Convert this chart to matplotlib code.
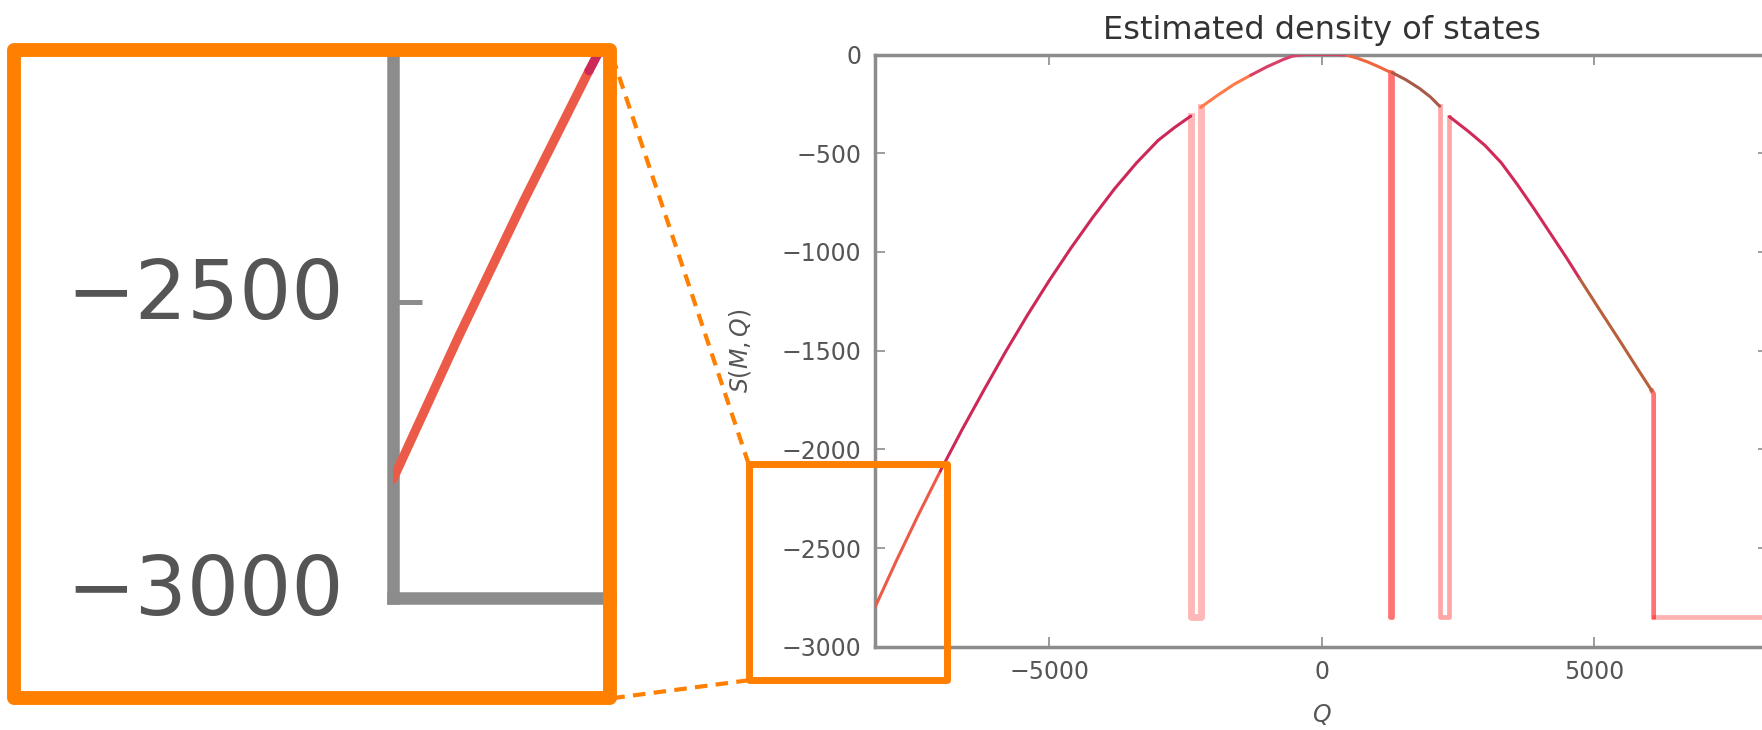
"""
Estimated density of states with an enlarged view of its lower left corner
"""

import matplotlib
matplotlib.use("Agg")
import matplotlib.pyplot as plt
from matplotlib.lines import Line2D
from matplotlib.patches import Rectangle
from matplotlib.ticker import MultipleLocator
from matplotlib.transforms import ScaledTranslation

# value the estimate falls to where a bin was never visited
FLOOR = -2850

# pieces of the curve: Q and S(M,Q)
q_tail_left = [-8200, -7800, -7400, -7000]
s_tail_left = [-2800, -2560, -2330, -2110]

q_left = [-7000, -6600, -6200, -5800, -5400, -5000, -4600, -4200,
          -3800, -3400, -3000, -2700, -2400]
s_left = [-2110, -1900, -1700, -1505, -1320, -1145, -980, -825,
          -680, -550, -435, -370, -312]

q_top_left = [-2220, -1900, -1600, -1300]
s_top_left = [-268, -205, -150, -105]

q_peak = [-1300, -1000, -700, -530, -300, 0, 300, 460]
s_peak = [-105, -62, -25, -8, 0, 0, 0, -3]

q_top_right = [460, 650, 850, 1050, 1250]
s_top_right = [-3, -18, -38, -62, -88]

q_shoulder = [1300, 1550, 1800, 2000, 2170]
s_shoulder = [-92, -128, -172, -215, -262]

q_right = [2350, 2700, 3000, 3300, 3600, 3900, 4200, 4500, 4740]
s_right = [-315, -390, -460, -548, -660, -780, -905, -1030, -1135]

q_tail_right = [4740, 5100, 5500, 5800, 6070]
s_tail_right = [-1135, -1290, -1460, -1590, -1705]

# holes where the estimate drops down to the floor
q_gap1 = [-2400, -2400, -2220, -2220]
s_gap1 = [-312, FLOOR, FLOOR, -268]
q_gap2 = [1250, 1250, 1300, 1300]
s_gap2 = [-88, FLOOR, FLOOR, -92]
q_gap3 = [2170, 2170, 2350, 2350]
s_gap3 = [-262, FLOOR, FLOOR, -315]
q_gap4 = [6070, 6100, 6100]
s_gap4 = [-1705, -1720, FLOOR]
q_flat = [6100, 8200]
s_flat = [FLOOR, FLOOR]

Q_RANGE = (-8200, 8200)
S_RANGE = (-3000, 0)

# region that is shown enlarged on the left
ZOOM_Q = (-10520, -6870)
ZOOM_S = (-3170, -2075)
MAG = 3

W, H, DPI = 1762, 730, 100
GREY = '#8c8c8c'
TEXT = '#555555'
ORANGE = '#ff7f00'

curves = [
    (q_tail_left, s_tail_left, '#ec5a48'),
    (q_left, s_left, '#cc2858'),
    (q_top_left, s_top_left, '#ff7a48'),
    (q_peak, s_peak, '#d8406a'),
    (q_top_right, s_top_right, '#f0643e'),
    (q_shoulder, s_shoulder, '#a85a48'),
    (q_right, s_right, '#d22a58'),
    (q_tail_right, s_tail_right, '#b8603c'),
]
# (q, s, alpha, line width)
gaps = [
    (q_gap1, s_gap1, 0.28, 5.0),
    (q_gap2, s_gap2, 0.55, 3.4),
    (q_gap3, s_gap3, 0.35, 3.4),
    (q_gap4, s_gap4, 0.55, 3.4),
    (q_flat, s_flat, 0.30, 3.4),
]


def draw(ax, scale=1.0):
    for q, s, a, w in gaps:
        ax.plot(q, s, color='red', alpha=a, lw=w * scale,
                solid_joinstyle='round', zorder=2)
    for q, s, c in curves:
        ax.plot(q, s, color=c, lw=2.2 * scale, solid_capstyle='round',
                solid_joinstyle='round', zorder=3)


def style(ax, scale=1.0, fs=17):
    for sp in ax.spines.values():
        sp.set_color(GREY)
        sp.set_linewidth(2.5 * scale)
    ax.tick_params(direction='in', length=7 * scale, width=1.2 * scale,
                   color=GREY, labelsize=fs, labelcolor=TEXT)
    ax.tick_params(axis='y', pad=10 * scale)
    ax.tick_params(axis='x', pad=9.5)
    ax.xaxis.set_major_locator(MultipleLocator(5000))
    ax.yaxis.set_major_locator(MultipleLocator(500))


fig = plt.figure(figsize=(W / DPI, H / DPI), dpi=DPI)

# main axes, its right edge runs just past the picture
ax = fig.add_axes([875 / W, 1 - 646.7 / H, 893 / W, 592.2 / H])
draw(ax)
style(ax)
ax.tick_params(top=True, right=True)
ax.set_xlim(*Q_RANGE)
ax.set_ylim(*S_RANGE)
ax.set_title('Estimated density of states', fontsize=23, color='#333333', pad=11)
ax.set_xlabel('$Q$', fontsize=17, color=TEXT, labelpad=13)
ax.set_ylabel('$S(M,Q)$', fontsize=17, color=TEXT, labelpad=20)

# zoom box on the main axes, in pixels
(x0, y0), (x1, y1) = ax.transData.transform([(ZOOM_Q[0], ZOOM_S[0]),
                                              (ZOOM_Q[1], ZOOM_S[1])])
sx, sy = ax.transData.transform((Q_RANGE[0], S_RANGE[0]))

# enlarged box, top left corner at (14, 50) from the top left of the picture
ix0 = 14
iy1 = H - 50
ix1 = ix0 + (x1 - x0) * MAG
iy0 = iy1 - (y1 - y0) * MAG

in_left = ix0 + (sx - x0) * MAG
in_bottom = iy0 + (sy - y0) * MAG
ax_in = fig.add_axes([in_left / W, in_bottom / H,
                      (ix1 - in_left) / W, (iy1 - in_bottom) / H])
draw(ax_in, MAG)
style(ax_in, MAG, fs=59)
ax_in.spines['left'].set_linewidth(9)
ax_in.spines['bottom'].set_linewidth(9)
ax_in.spines['top'].set_visible(False)
ax_in.spines['right'].set_visible(False)
ax_in.tick_params(axis='y', pad=35)
ax_in.set_xticks([])
ax_in.set_xlim(Q_RANGE[0], ZOOM_Q[1])
ax_in.set_ylim(S_RANGE[0], ZOOM_S[1])

# the enlarged labels sit a little above their ticks, as in the original
lift = ScaledTranslation(0, 10 / 72, fig.dpi_scale_trans)
for lab in ax_in.get_yticklabels():
    lab.set_transform(lab.get_transform() + lift)

# orange frames and the dashed lines joining them
fig.add_artist(Rectangle((x0 / W, y0 / H), (x1 - x0) / W, (y1 - y0) / H,
                         transform=fig.transFigure, fill=False, ec=ORANGE,
                         lw=5, joinstyle='round', zorder=10))
fig.add_artist(Rectangle((ix0 / W, iy0 / H), (ix1 - ix0) / W, (iy1 - iy0) / H,
                         transform=fig.transFigure, fill=False, ec=ORANGE,
                         lw=10, joinstyle='round', zorder=10))
for (ax_, ay_), (bx_, by_) in [((x0, y1), (ix1, iy1)), ((x0, y0), (ix1, iy0))]:
    fig.add_artist(Line2D([ax_ / W, bx_ / W], [ay_ / H, by_ / H],
                          transform=fig.transFigure, color=ORANGE, lw=3,
                          ls=(0, (3, 2)), zorder=10))

fig.savefig('out.png', dpi=DPI)
